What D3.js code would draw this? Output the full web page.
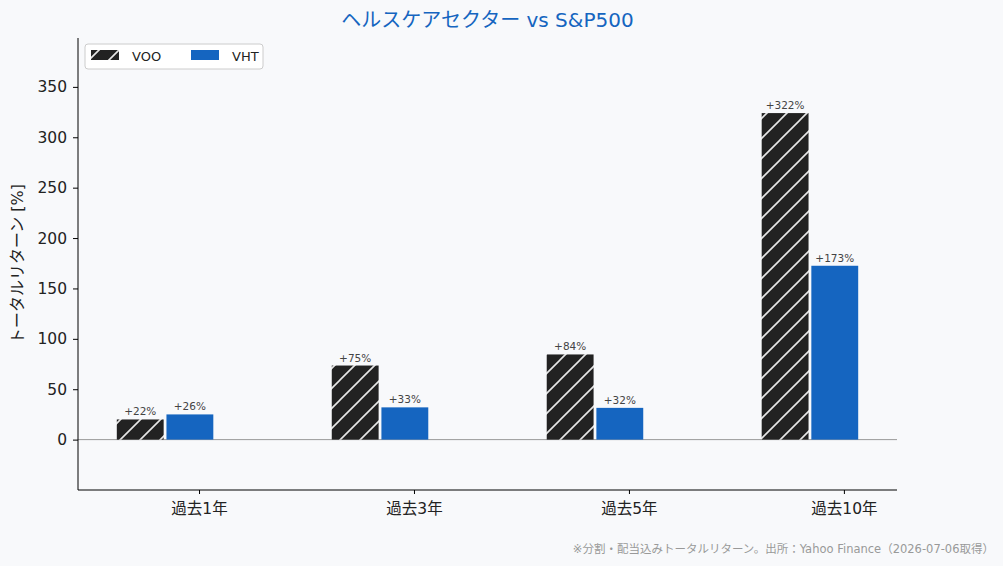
<!DOCTYPE html>
<html><head><meta charset="utf-8">
<script src="https://cdn.jsdelivr.net/npm/d3@7"></script>
<style>
body{margin:0;background:#f8f9fb;}
svg{display:block;font-family:"DejaVu Sans","Noto Sans CJK JP",sans-serif;}
</style></head>
<body><svg id="c" width="1003" height="566"></svg>
<script>
const categories = ["過去1年","過去3年","過去5年","過去10年"];
const seriesNames = ["VOO","VHT"];
const vooValues = [20, 73.5, 84.5, 324];
const vhtValues = [25, 32, 31.5, 172.5];
const vooLabels = ["+22%","+75%","+84%","+322%"];
const vhtLabels = ["+26%","+33%","+32%","+173%"];
const yTicks = [0,50,100,150,200,250,300,350];
const titleText = "ヘルスケアセクター vs S&P500";
const yLabelText = "トータルリターン [%]";
const noteText = "※分割・配当込みトータルリターン。出所：Yahoo Finance（2026-07-06取得）";

const FONT = "'DejaVu Sans','Noto Sans CJK JP',sans-serif";
const svg = d3.select("#c");
const W = 1003, H = 566;
const L = 78, R = 897, T = 38, B = 490;
svg.append("rect").attr("width",W).attr("height",H).attr("fill","#f8f9fb");

const defs = svg.append("defs");
const pat = defs.append("pattern").attr("id","hatch").attr("patternUnits","userSpaceOnUse")
  .attr("width",20).attr("height",20);
pat.append("rect").attr("width",20).attr("height",20).attr("fill","#222222");
pat.append("path").attr("d","M0,20 L20,0 M-5,5 L5,-5 M15,25 L25,15")
  .attr("stroke","#e6e6e6").attr("stroke-width",1.6);

const x = d3.scaleLinear().domain([-0.405, 3.405]).range([L, R]);
const y = d3.scaleLinear().domain([-50, 398.5]).range([B, T]);
const bw = 0.218, off = 0.1155, tickShift = 0.158;

const series = [
  {name: seriesNames[0], vals: vooValues, labels: vooLabels, fill: "url(#hatch)", dx: -off},
  {name: seriesNames[1], vals: vhtValues, labels: vhtLabels, fill: "#1565c0", dx: off}
];

// zero line
svg.append("line").attr("x1",L).attr("x2",R).attr("y1",y(0)).attr("y2",y(0))
  .attr("stroke","#999").attr("stroke-width",1);

series.forEach(s => {
  const g = svg.append("g");
  g.selectAll("rect").data(s.vals).join("rect")
    .attr("x",(d,i)=>x(i + s.dx - bw/2))
    .attr("width",x(bw)-x(0))
    .attr("y",d=>y(Math.max(d,0)))
    .attr("height",d=>Math.abs(y(d)-y(0)))
    .attr("fill",s.fill);
  g.selectAll("text").data(s.vals).join("text")
    .attr("x",(d,i)=>x(i + s.dx))
    .attr("y",d=>y(d)-4)
    .attr("text-anchor","middle")
    .attr("font-size",10.5).attr("fill","#444")
    .text((d,i)=>s.labels[i]);
});

// axes
const yAxis = d3.axisLeft(y).tickValues(yTicks).tickSize(5).tickPadding(6);
const ya = svg.append("g").attr("transform",`translate(${L},0)`).call(yAxis);
ya.select(".domain").attr("d",`M0,${T}V${B}`).attr("stroke","#000");
ya.selectAll("text").attr("font-size",15.5).attr("fill","#222").attr("font-family",FONT);

const xAxis = d3.axisBottom(x).tickValues(categories.map((c,i)=>i+tickShift))
  .tickFormat((d,i)=>categories[i]).tickSize(4).tickPadding(9);
const xa = svg.append("g").attr("transform",`translate(0,${B})`).call(xAxis);
xa.select(".domain").attr("d",`M${L},0H${R}`).attr("stroke","#000");
xa.selectAll("text").attr("font-size",15.5).attr("fill","#222").attr("font-family",FONT);

// title
svg.append("text").attr("x",(L+R)/2).attr("y",27).attr("text-anchor","middle")
  .attr("font-size",20).attr("fill","#1565c0").text(titleText);
// y label
svg.append("text").attr("transform",`translate(23,${(T+B)/2}) rotate(-90)`)
  .attr("text-anchor","middle").attr("font-size",16).attr("fill","#222").text(yLabelText);
// note
svg.append("text").attr("x",994).attr("y",553).attr("text-anchor","end")
  .attr("font-size",11.5).attr("fill","#999").text(noteText);

// legend
const lg = svg.append("g").attr("transform","translate(85,44)");
lg.append("rect").attr("width",178).attr("height",25).attr("rx",3)
  .attr("fill","#fff").attr("stroke","#ccc").attr("stroke-width",1);
series.forEach((s,i)=>{
  const gx = 6 + i*100;
  lg.append("rect").attr("x",gx).attr("y",6).attr("width",28).attr("height",10).attr("fill",s.fill);
  lg.append("text").attr("x",gx+41).attr("y",17).attr("font-size",13).attr("fill","#222").text(s.name);
});
</script></body></html>
